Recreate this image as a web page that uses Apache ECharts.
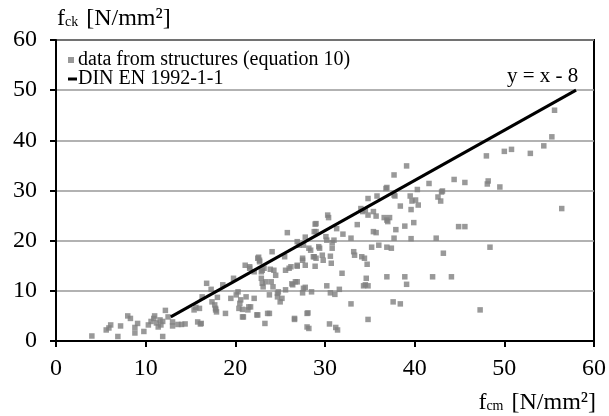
<!DOCTYPE html>
<html>
<head>
<meta charset="utf-8">
<script src="https://cdn.jsdelivr.net/npm/echarts@6/dist/echarts.min.js"></script>
<style>
  html, body { margin: 0; padding: 0; background: #fff; }
  #chart { width: 609px; height: 416px; }
</style>
</head>
<body>
<div id="chart"></div>
<script>
// measured points: fcm (x) and fck (y), N/mm²
var fcm = [
  4.0, 5.6, 5.9, 6.1, 6.9, 7.2, 8.0, 8.3, 8.8, 8.8, 9.1, 9.8, 10.3, 10.6, 10.9, 11.0, 11.2, 11.4, 11.6, 11.7,
  11.9, 11.9, 12.2, 12.5, 13.0, 13.0, 13.6, 14.0, 14.4, 15.4, 15.6, 16.0, 15.8, 16.1, 16.2,
  16.3, 16.8, 17.3, 17.4, 17.7, 17.8, 17.9, 18.0, 18.6, 18.9, 19.5, 19.8, 20.1, 20.3, 20.4, 20.6, 20.9, 21.1,
  21.2, 21.4, 21.6, 21.7, 22.1, 22.1, 22.4, 22.5, 22.7, 22.9, 22.9, 23.0, 23.1, 23.2, 23.4, 23.3, 23.6, 23.8,
  24.0, 24.1, 24.3, 24.5, 24.2, 24.7, 24.8, 24.7, 25.0, 25.2, 25.5, 25.6, 25.6, 25.8, 26.0, 26.4, 26.6, 26.7,
  26.9, 27.1, 27.5, 27.6, 27.8, 28.0, 28.0, 26.2, 26.3, 26.9, 27.5, 27.8, 28.5, 26.6, 28.1, 28.2, 27.5, 27.8,
  26.9, 28.4, 28.8, 29.0, 29.0, 29.3, 28.9, 28.8, 27.6, 28.2, 29.4, 28.7, 29.0, 28.9, 29.8, 26.9, 22.6, 22.7,
  23.9, 23.0, 21.6, 17.8, 20.5, 20.8, 20.8, 21.5, 22.5, 23.8,
  30.1, 30.2, 30.3, 30.4, 30.6, 30.7, 30.8, 30.8, 31.0, 31.3, 32.0, 32.9, 31.9, 30.2, 30.6, 31.1, 31.6, 32.9,
  30.5, 31.2, 31.4, 29.7, 33.2, 33.3, 34.1, 34.4, 34.7, 33.6, 34.0, 34.2, 34.5, 34.8, 35.4, 35.7, 34.8, 35.8,
  36.9, 37.7, 39.1, 36.6, 36.9, 37.2, 37.0, 37.9, 38.9, 39.9, 35.4, 35.7, 37.7, 39.6, 42.4, 35.2, 36.0, 36.9,
  37.4, 34.6, 36.9, 38.9, 39.1, 42.0, 44.1, 34.5, 34.8, 34.3, 37.6, 38.4, 34.8, 37.8, 38.4, 39.5, 39.7, 40.1,
  40.4, 39.6, 40.3, 41.6, 43.0, 42.6, 42.9, 44.4, 43.2,
  55.6, 55.3, 54.4, 52.9, 50.8, 50.0, 48.0, 56.4, 49.5, 48.2, 48.1, 45.6, 43.1, 44.9, 45.6, 48.4, 47.3, 36.8, 37.7
];
var fck = [
  1.0, 2.2, 2.6, 3.2, 0.9, 3.0, 5.0, 4.5, 2.7, 1.6, 3.5, 1.9, 3.2, 3.9, 4.5, 5.0, 3.6, 2.8, 4.2, 3.2,
  0.9, 3.9, 6.1, 4.8, 3.8, 3.0, 3.3, 3.3, 3.4, 6.2, 6.7, 6.5, 3.8, 3.4, 3.5,
  8.8, 11.5, 10.3, 7.8, 7.2, 6.5, 5.8, 8.7, 11.2, 5.5, 8.5, 12.5, 9.2, 9.8, 6.5, 8.2, 4.8, 15.1,
  8.8, 6.2, 14.5, 6.8, 8.5, 13.8, 5.2, 16.5, 15.8, 13.8, 12.5, 11.5, 10.8, 14.5, 11.8, 3.5, 5.5, 9.2,
  11.8, 17.8, 14.1, 13.1, 10.8, 8.8, 9.8, 9.5, 7.8, 8.5, 16.8, 14.1, 10.2, 21.6, 14.5, 11.2, 4.5, 11.8,
  15.1, 19.1, 16.1, 10.5, 20.7, 5.5, 2.8, 14.8, 11.4, 11.8, 9.6, 10.7, 9.8, 4.3, 5.6, 2.5, 16.5, 15.1,
  19.8, 18.1, 16.8, 23.4, 21.8, 18.8, 23.3, 21.8, 19.1, 18.5, 18.5, 16.8, 16.5, 14.9, 16.1, 14.9, 16.7, 16.1,
  14.3, 14.1, 14.8, 6.2, 7.5, 6.3, 4.8, 6.8, 5.2, 5.5,
  20.8, 20.1, 25.1, 24.6, 16.9, 15.5, 19.6, 18.5, 20.1, 22.4, 21.3, 20.5, 13.5, 11.0, 9.6, 9.3, 10.3, 7.4,
  3.4, 2.7, 2.2, 17.1, 17.8, 17.1, 16.8, 16.5, 15.3, 23.2, 26.4, 25.8, 26.1, 25.1, 25.8, 24.9, 28.4, 28.9,
  30.6, 33.1, 34.9, 24.6, 24.1, 24.6, 23.8, 22.2, 22.9, 23.6, 21.8, 21.6, 20.5, 20.4, 20.5, 18.7, 19.1, 18.7,
  18.5, 12.5, 12.8, 12.8, 11.3, 12.8, 12.8, 11.2, 11.0, 11.0, 7.8, 7.4, 4.3, 28.9, 26.9, 28.9, 27.9, 28.1,
  27.1, 26.2, 30.2, 31.4, 29.7, 28.7, 27.9, 32.2, 17.5,
  46.0, 40.7, 38.9, 37.4, 38.2, 37.8, 36.9, 26.4, 30.7, 31.9, 31.3, 31.6, 29.9, 22.8, 22.8, 18.7, 6.2, 30.4, 29.1
];
// DIN EN 1992-1-1 line end points (y = x - 8)
var dinX = [12.8, 58];
var dinY = [4.8, 50];
var axisTicks = [0, 10, 20, 30, 40, 50, 60];

var serif = '"Liberation Serif", "DejaVu Serif", serif';
var points = fcm.map(function (x, i) { return [x, fck[i]]; });
var dinLine = dinX.map(function (x, i) { return [x, dinY[i]]; });

var titleRich = {
  a: { fontFamily: serif, fontSize: 24, fill: '#000' },
  b: { fontFamily: serif, fontSize: 14, fill: '#000', verticalAlign: 'bottom', padding: [0, 8, 2, 0] }
};

var chart = echarts.init(document.getElementById('chart'));
chart.setOption({
  backgroundColor: '#fff',
  animation: false,
  grid: { left: 56, right: 12, top: 40, bottom: 75, show: true, borderColor: '#000', borderWidth: 2 },
  legend: [{
    data: ['data from structures (equation 10)'],
    left: 63, top: 45, icon: 'rect', itemWidth: 6, itemHeight: 6,
    textStyle: { fontFamily: serif, fontSize: 20, color: '#000', padding: [0, 0, 0, -1] }
  }, {
    data: ['DIN EN 1992-1-1'],
    left: 63, top: 64, icon: 'rect', itemWidth: 9, itemHeight: 3,
    textStyle: { fontFamily: serif, fontSize: 20, color: '#000', padding: [0, 0, 0, -4] }
  }],
  xAxis: {
    type: 'value', min: axisTicks[0], max: axisTicks[axisTicks.length - 1], interval: 10,
    axisLine: { lineStyle: { color: '#000', width: 2 } },
    axisTick: { length: 6, lineStyle: { color: '#000', width: 2 } },
    axisLabel: { fontFamily: serif, fontSize: 24, color: '#000', margin: 16 },
    splitLine: { show: false }
  },
  yAxis: {
    type: 'value', min: axisTicks[0], max: axisTicks[axisTicks.length - 1], interval: 10,
    axisLine: { show: true, lineStyle: { color: '#000', width: 2 } },
    axisTick: { show: true, length: 6, lineStyle: { color: '#000', width: 2 } },
    axisLabel: { fontFamily: serif, fontSize: 24, color: '#000', margin: 19 },
    splitLine: { lineStyle: { color: '#999', width: 1.5 } }
  },
  graphic: [{
    type: 'text', left: 57, top: 7,
    style: { rich: titleRich, text: '{a|f}{b|ck}{a|[N/mm²]}' }
  }, {
    type: 'text', right: 13, top: 391,
    style: { rich: titleRich, text: '{a|f}{b|cm}{a|[N/mm²]}' }
  }, {
    type: 'text', left: 507, top: 66,
    style: { text: 'y = x - 8', fontFamily: serif, fontSize: 21, fill: '#000' }
  }],
  series: [{
    name: 'data from structures (equation 10)',
    type: 'scatter',
    symbol: 'rect',
    symbolSize: 5.5,
    itemStyle: { color: '#808080' },
    data: points
  }, {
    name: 'DIN EN 1992-1-1',
    type: 'line',
    symbol: 'none',
    lineStyle: { color: '#000', width: 3 },
    itemStyle: { color: '#000' },
    data: dinLine
  }]
});
</script>
</body>
</html>
